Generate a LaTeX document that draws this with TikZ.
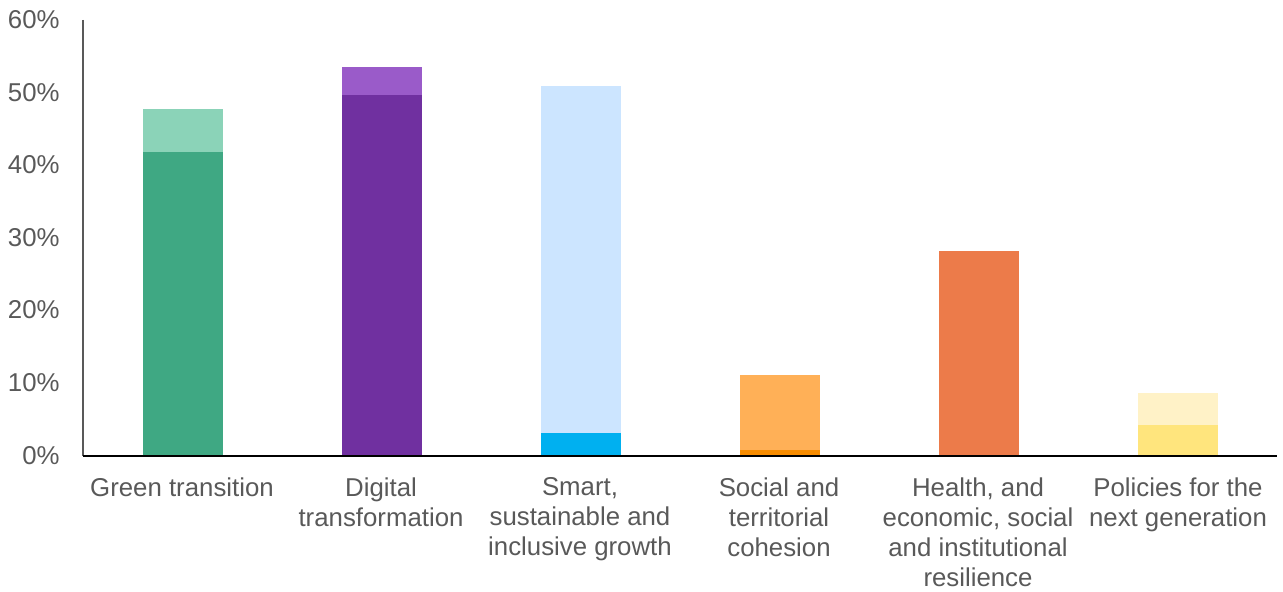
\documentclass[tikz,border=0pt]{standalone}
\usepackage{fontspec}
\setmainfont{Liberation Sans}
\definecolor{txt}{HTML}{595959}
\definecolor{gdark}{HTML}{3FA883}
\definecolor{glight}{HTML}{8BD3B8}
\definecolor{pdark}{HTML}{7030A0}
\definecolor{plight}{HTML}{9A5BC9}
\definecolor{bdark}{HTML}{00B0F0}
\definecolor{blight}{HTML}{CCE5FF}
\definecolor{odark}{HTML}{F78C00}
\definecolor{olight}{HTML}{FFB057}
\definecolor{hcol}{HTML}{EC7B4A}
\definecolor{ydark}{HTML}{FFE57D}
\definecolor{ylight}{HTML}{FFF2C7}
\tikzset{
  ticklbl/.style={anchor=base east, inner sep=0pt, text=txt, font=\fontsize{12.9}{15}\selectfont},
  catlbl/.style={anchor=north, inner sep=0pt, align=center, text=txt, font=\fontsize{12.9}{15}\selectfont},
  axisline/.style={line width=0.75pt}
}
\begin{document}
\begin{tikzpicture}[x=0.5pt,y=-0.5pt]
\useasboundingbox (0,0) rectangle (1283,592);
% bars
\fill[glight] (143,109) rectangle (223,456);
\fill[gdark] (143,152) rectangle (223,456);
\fill[plight] (342,67) rectangle (422,456);
\fill[pdark] (342,95) rectangle (422,456);
\fill[blight] (541,86) rectangle (621,456);
\fill[bdark] (541,433) rectangle (621,456);
\fill[olight] (740,375) rectangle (820,456);
\fill[odark] (740,450) rectangle (820,456);
\fill[hcol] (939,251) rectangle (1019,456);
\fill[ylight] (1138,393) rectangle (1218,456);
\fill[ydark] (1138,425) rectangle (1218,456);
% axes
\coordinate (ytop) at (83,20);
\coordinate (orig) at (83,456);
\coordinate (xend) at (1277,456);
\draw[axisline, color=txt] (ytop) -- (orig);
\draw[axisline, color=black] (orig) -- (xend);
% tick labels
\node[ticklbl] (t60) at (60,29) {60\%};
\node[ticklbl] (t50) at (60,102) {50\%};
\node[ticklbl] (t40) at (60,174) {40\%};
\node[ticklbl] (t30) at (60,247) {30\%};
\node[ticklbl] (t20) at (60,319) {20\%};
\node[ticklbl] (t10) at (60,392) {10\%};
\node[ticklbl] (t0) at (60,465) {0\%};
% category labels
\node[catlbl] (c1) at (182,477) {Green transition};
\node[catlbl] (c2) at (381,477) {Digital\\transformation};
\node[catlbl] (c3) at (580,477) {Smart,\\sustainable and\\inclusive growth};
\node[catlbl] (c4) at (779,477) {Social and\\territorial\\cohesion};
\node[catlbl] (c5) at (978,477) {Health, and\\economic, social\\and institutional\\resilience};
\node[catlbl] (c6) at (1178,477) {Policies for the\\next generation};
\end{tikzpicture}
\end{document}
